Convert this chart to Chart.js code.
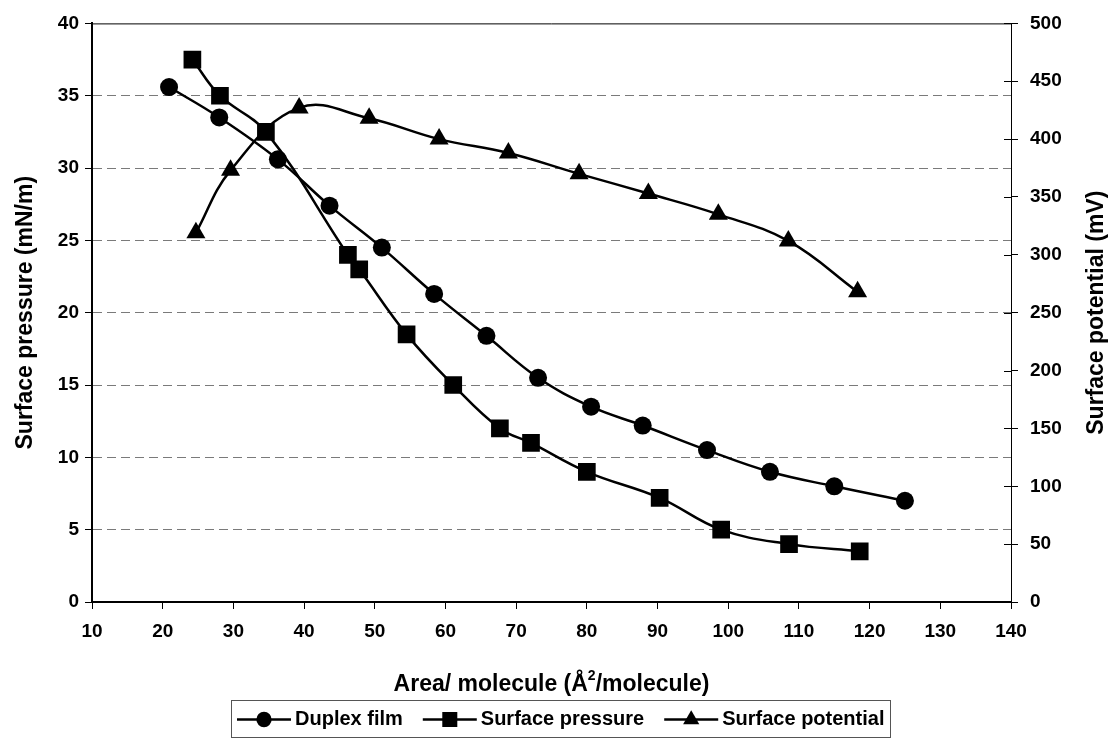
<!DOCTYPE html>
<html>
<head>
<meta charset="utf-8">
<script src="https://cdn.jsdelivr.net/npm/chart.js@4/dist/chart.umd.min.js"></script>
<style>
  html, body { margin: 0; padding: 0; background: #fff; }
  #wrap { width: 1115px; height: 740px; }
</style>
</head>
<body>
<div id="wrap"><canvas id="c" width="1115" height="740"></canvas></div>
<script>
// Duplex film isotherm
const areaDuplex = [20.9, 28.0, 36.3, 43.6, 51.0, 58.4, 65.8, 73.1, 80.6, 87.9, 97.0, 105.9, 115.0, 125.0];
const pressureDuplex = [35.6, 33.5, 30.6, 27.4, 24.5, 21.3, 18.4, 15.5, 13.5, 12.2, 10.5, 9.0, 8.0, 7.0];

// Surface pressure isotherm
const areaPressure = [24.2, 28.1, 34.6, 46.2, 47.8, 54.5, 61.1, 67.7, 72.1, 80.0, 90.3, 99.0, 108.6, 118.6];
const pressureValues = [37.5, 35.0, 32.5, 24.0, 23.0, 18.5, 15.0, 12.0, 11.0, 9.0, 7.2, 5.0, 4.0, 3.5];

// Surface potential (mV, right axis)
const areaPotential = [24.7, 29.6, 39.3, 49.2, 59.1, 68.9, 78.9, 88.7, 98.6, 108.5, 118.3];
const potentialValues = [319, 373, 427, 418, 400, 388, 370, 353, 335, 312, 268];

const seriesNames = ['Duplex film', 'Surface pressure', 'Surface potential'];
const xTitleParts = ['Area/ molecule (Å', '2', '/molecule)'];
const yTitle = 'Surface pressure (mN/m)';
const y2Title = 'Surface potential (mV)';

const FONT = "'Liberation Sans', Arial, sans-serif";
const toXY = (xs, ys) => xs.map((x, i) => ({ x: x, y: ys[i] }));

// Markers drawn in the legend box
function drawMarker(ctx, style, x, y, r) {
  ctx.beginPath();
  if (style === 'circle') {
    ctx.arc(x, y, r, 0, Math.PI * 2);
  } else if (style === 'rect') {
    const s = r / Math.SQRT2;
    ctx.rect(x - s, y - s, 2 * s, 2 * s);
  } else {
    ctx.moveTo(x, y - r);
    ctx.lineTo(x + Math.sin(2 * Math.PI / 3) * r, y + r / 2);
    ctx.lineTo(x - Math.sin(2 * Math.PI / 3) * r, y + r / 2);
    ctx.closePath();
  }
  ctx.fill();
}

const decorations = {
  id: 'decorations',
  afterDraw(chart) {
    const ctx = chart.ctx;
    const a = chart.chartArea;
    ctx.save();

    // top frame line
    ctx.strokeStyle = '#000';
    ctx.lineWidth = 1;
    ctx.beginPath();
    ctx.moveTo(a.left, a.top + 0.5);
    ctx.lineTo(a.right, a.top + 0.5);
    ctx.stroke();

    // right axis ticks also reach into the plot
    const y2 = chart.scales.y2;
    y2.ticks.forEach(t => {
      const py = Math.round(y2.getPixelForValue(t.value)) + 0.5;
      ctx.beginPath();
      ctx.moveTo(a.right - 7, py);
      ctx.lineTo(a.right, py);
      ctx.stroke();
    });

    ctx.fillStyle = '#000';

    // right axis title, reading upwards
    ctx.save();
    ctx.font = 'bold 23px ' + FONT;
    ctx.textAlign = 'center';
    ctx.textBaseline = 'middle';
    ctx.translate(1097, (a.top + a.bottom) / 2);
    ctx.rotate(-Math.PI / 2);
    ctx.fillText(y2Title, 0, 0);
    ctx.restore();

    // x axis title with superscript
    const big = 'bold 23px ' + FONT;
    const small = 'bold 14px ' + FONT;
    ctx.font = big;
    const w0 = ctx.measureText(xTitleParts[0]).width;
    const w2 = ctx.measureText(xTitleParts[2]).width;
    ctx.font = small;
    const w1 = ctx.measureText(xTitleParts[1]).width;
    let tx = (a.left + a.right) / 2 - (w0 + w1 + w2) / 2;
    const ty = 683;
    ctx.textAlign = 'left';
    ctx.textBaseline = 'alphabetic';
    ctx.font = big;
    ctx.fillText(xTitleParts[0], tx, ty + 8);
    tx += w0;
    ctx.font = small;
    ctx.fillText(xTitleParts[1], tx, ty - 3);
    tx += w1;
    ctx.font = big;
    ctx.fillText(xTitleParts[2], tx, ty + 8);

    // legend
    const legFont = 'bold 20px ' + FONT;
    ctx.font = legFont;
    const symW = 54, gapT = 4, gapItem = 20, padX = 6;
    const items = chart.data.datasets.map(ds => ({
      label: ds.label, style: ds.pointStyle, r: ds.pointRadius,
      w: symW + gapT + ctx.measureText(ds.label).width
    }));
    const total = items.reduce((s, it) => s + it.w, 0) + gapItem * (items.length - 1);
    const boxL = Math.round(561 - total / 2 - padX);
    const boxW = Math.round(total + 2 * padX);
    const boxT = 700, boxH = 37;
    ctx.strokeStyle = '#555';
    ctx.lineWidth = 1;
    ctx.strokeRect(boxL + 0.5, boxT + 0.5, boxW, boxH);
    let lx = boxL + padX;
    const ly = boxT + boxH / 2 + 1;
    items.forEach(it => {
      ctx.strokeStyle = '#000';
      ctx.lineWidth = 2.5;
      ctx.beginPath();
      ctx.moveTo(lx, ly);
      ctx.lineTo(lx + symW, ly);
      ctx.stroke();
      drawMarker(ctx, it.style, lx + symW / 2, ly, it.r * 0.85);
      ctx.textAlign = 'left';
      ctx.textBaseline = 'middle';
      ctx.fillText(it.label, lx + symW + gapT, ly);
      lx += it.w + gapItem;
    });

    ctx.restore();
  }
};

const common = {
  showLine: true,
  borderColor: '#000',
  backgroundColor: '#000',
  pointBackgroundColor: '#000',
  pointBorderColor: '#000',
  pointBorderWidth: 0,
  borderWidth: 2.5,
  tension: 0.4,
  fill: false
};

const tickFont = { family: FONT, size: 19, weight: 'bold' };

new Chart(document.getElementById('c'), {
  type: 'scatter',
  data: {
    datasets: [
      Object.assign({}, common, {
        label: seriesNames[0], data: toXY(areaDuplex, pressureDuplex),
        pointStyle: 'circle', pointRadius: 9, yAxisID: 'y'
      }),
      Object.assign({}, common, {
        label: seriesNames[1], data: toXY(areaPressure, pressureValues),
        pointStyle: 'rect', pointRadius: 12.5, yAxisID: 'y'
      }),
      Object.assign({}, common, {
        label: seriesNames[2], data: toXY(areaPotential, potentialValues),
        pointStyle: 'triangle', pointRadius: 11, yAxisID: 'y2'
      })
    ]
  },
  options: {
    responsive: false,
    animation: false,
    devicePixelRatio: 1,
    layout: { padding: { top: 22, left: 0, right: 0, bottom: 0 } },
    plugins: { legend: { display: false }, tooltip: { enabled: false } },
    scales: {
      x: {
        type: 'linear', position: 'bottom', min: 10, max: 140,
        ticks: { stepSize: 10, color: '#000', font: tickFont, padding: 11, maxRotation: 0 },
        grid: { drawOnChartArea: false, drawTicks: true, tickLength: 7, tickColor: '#000', tickWidth: 1 },
        border: { color: '#000', width: 2 },
        afterFit(s) { s.height = 138; }
      },
      y: {
        type: 'linear', position: 'left', min: 0, max: 40,
        ticks: { stepSize: 5, color: '#000', font: tickFont, padding: 6 },
        grid: {
          color: ctx => (ctx.tick && (ctx.tick.value === 0 || ctx.tick.value === 40)) ? 'rgba(0,0,0,0)' : '#7a7a7a',
          lineWidth: 1, drawTicks: true, tickLength: 7, tickColor: '#000', tickWidth: 1
        },
        border: { color: '#000', width: 2, dash: [9, 5] },
        title: { display: true, text: yTitle, color: '#000', font: { family: FONT, size: 23, weight: 'bold' }, padding: { top: 12, bottom: 0 } },
        afterFit(s) { s.width = 92; }
      },
      y2: {
        type: 'linear', position: 'right', min: 0, max: 500,
        ticks: { stepSize: 50, color: '#000', font: tickFont, padding: 12 },
        grid: { drawOnChartArea: false, drawTicks: true, tickLength: 7, tickColor: '#000', tickWidth: 1 },
        border: { color: '#000', width: 1 },
        afterFit(s) { s.width = 104; }
      }
    }
  },
  plugins: [decorations]
});
</script>
</body>
</html>
